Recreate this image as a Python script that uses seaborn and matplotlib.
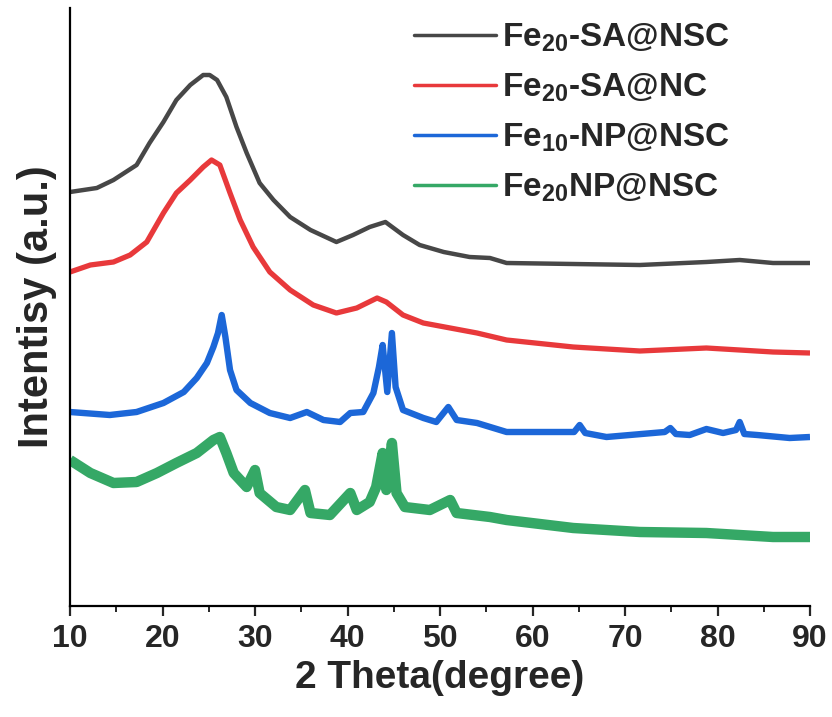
import numpy as np
import pandas as pd
import matplotlib
matplotlib.use("Agg")
import matplotlib.pyplot as plt
from matplotlib.lines import Line2D
from matplotlib.ticker import MultipleLocator
import seaborn as sns

# ---- data (intensity in a.u.) ----
series_names = ["Fe20-SA@NSC", "Fe20-SA@NC", "Fe10-NP@NSC", "Fe20NP@NSC"]
legend_labels = [r"Fe$_{\mathbf{20}}$-SA@NSC", r"Fe$_{\mathbf{20}}$-SA@NC",
                 r"Fe$_{\mathbf{10}}$-NP@NSC", r"Fe$_{\mathbf{20}}$NP@NSC"]
colors = ["#474747", "#e8393b", "#1c67d8", "#35a866"]

black_x = [10, 12.9, 14.7, 17.2, 18.6, 20.1, 21.5, 23.0, 24.4, 25.1, 25.9, 26.9, 28.0, 29.1,
           30.5, 32.0, 33.8, 36.0, 38.8, 40.6, 42.4, 44.1, 46.0, 47.8, 50.4, 53.2, 55.4,
           57.2, 64.4, 71.6, 78.8, 82.4, 86, 90]
black_y = [414, 418, 426, 441, 463, 484, 506, 521, 531, 531, 526, 509, 479, 453,
           423, 406, 389, 376, 364, 371, 379, 384, 371, 361, 354, 349, 348,
           343, 342, 341, 344, 346, 343, 343]

red_x = [10, 12.2, 14.7, 16.5, 18.3, 20.1, 21.5, 23.0, 24.4, 25.3, 26.2, 27.3, 28.4, 29.8,
         31.6, 33.8, 36.3, 38.8, 41.0, 43.2, 44.2, 46.0, 48.2, 51.1, 54.0, 57.2, 64.4,
         71.6, 78.8, 86, 90]
red_y = [334, 341, 344, 351, 364, 393, 413, 426, 439, 446, 441, 413, 386, 359,
         334, 316, 301, 293, 298, 308, 304, 291, 283, 278, 273, 266, 259,
         255, 258, 254, 253]

blue_x = [10, 14.3, 17.2, 20.1, 22.3, 23.7, 24.8, 25.5, 26.0, 26.4, 26.8, 27.3, 28.0, 29.5,
          31.6, 33.8, 35.6, 37.4, 39.2, 40.3, 41.7, 42.8, 43.4, 43.8, 44.3, 44.8, 45.2,
          46.0, 48.2, 49.6, 50.9, 51.8, 54.0, 57.2, 64.5, 65.1, 65.7, 68, 74.3, 74.9, 75.5,
          77, 78.8, 80.6, 82.0, 82.4, 82.9, 84.3, 87.8, 90]
blue_y = [194, 191, 194, 203, 214, 228, 243, 259, 273, 291, 269, 236, 216, 203,
          193, 188, 194, 186, 184, 193, 194, 213, 239, 261, 214, 273, 219,
          196, 188, 184, 199, 186, 183, 174, 174, 181, 173, 169, 174, 178, 172,
          171, 177, 173, 176, 184, 172, 171, 168, 169]

green_x = [10, 12.2, 14.7, 17.2, 19.4, 21.5, 23.7, 25.5, 26.2, 26.9, 27.7, 29.1, 30.0, 30.5,
           32.3, 33.8, 35.4, 36.0, 38.1, 40.3, 41.0, 42.4, 43.1, 43.8, 44.2, 44.8, 45.3,
           46.2, 48.9, 51.1, 51.8, 55.4, 57.2, 64.4, 71.6, 78.8, 86, 90]
green_y = [146, 133, 123, 124, 133, 143, 153, 166, 169, 153, 133, 119, 136, 113,
           99, 96, 116, 93, 91, 113, 96, 104, 119, 153, 116, 163, 113,
           99, 96, 106, 93, 89, 86, 78, 74, 73, 69, 69]

xs = [black_x, red_x, blue_x, green_x]
ys = [black_y, red_y, blue_y, green_y]
line_widths = [3.2, 3.8, 4.6, 7.5]

x_ticks = [10, 20, 30, 40, 50, 60, 70, 80, 90]

frames = []
for name, x, y in zip(series_names, xs, ys):
    frames.append(pd.DataFrame({"theta": x, "intensity": y, "sample": name}))
df = pd.concat(frames, ignore_index=True)

# ---- plot ----
sns.set_style("white")
plt.rcParams["font.family"] = ["Liberation Sans", "DejaVu Sans"]
plt.rcParams["font.weight"] = "bold"
plt.rcParams["mathtext.fontset"] = "custom"
plt.rcParams["mathtext.bf"] = "Liberation Sans:bold"
plt.rcParams["mathtext.rm"] = "Liberation Sans:bold"

fig = plt.figure(figsize=(8.32, 7.17), dpi=100)
ax = fig.add_axes([70 / 832, 1 - 606 / 717, 740 / 832, 598 / 717])

for name, c, lw in zip(series_names, colors, line_widths):
    sns.lineplot(data=df[df["sample"] == name], x="theta", y="intensity", color=c,
                 linewidth=lw, sort=False, ax=ax, legend=False,
                 solid_joinstyle="round", solid_capstyle="butt")

ax.set_xlim(10, 90)
ax.set_ylim(0, 598)
ax.set_xticks(x_ticks)
ax.set_xticklabels([str(t) for t in x_ticks])
ax.xaxis.set_minor_locator(MultipleLocator(5))
ax.set_yticks([])
for s in ["top", "right"]:
    ax.spines[s].set_visible(False)
for s in ["left", "bottom"]:
    ax.spines[s].set_linewidth(1.6)
    ax.spines[s].set_color("black")
ax.tick_params(axis="x", which="major", direction="out", length=7, width=1.6,
               labelsize=23, pad=6, bottom=True)
ax.tick_params(axis="x", which="minor", direction="out", length=4, width=1.4, bottom=True)
for lab in ax.get_xticklabels():
    lab.set_fontweight("bold")

ax.set_xlabel("2 Theta(degree)", fontsize=28, fontweight="bold", labelpad=4)
ax.set_ylabel("Intentisy (a.u.)", fontsize=30, fontweight="bold", labelpad=9)

handles = [Line2D([0], [0], color=c, lw=2.5) for c in colors]
leg = ax.legend(handles, legend_labels, loc="upper left", bbox_to_anchor=(0.447, 1.0),
                frameon=False, fontsize=24, handlelength=2.45, handletextpad=0.2,
                labelspacing=0.52, borderaxespad=0.0)
for t in leg.get_texts():
    t.set_fontweight("bold")

fig.savefig("out.png", dpi=100)
